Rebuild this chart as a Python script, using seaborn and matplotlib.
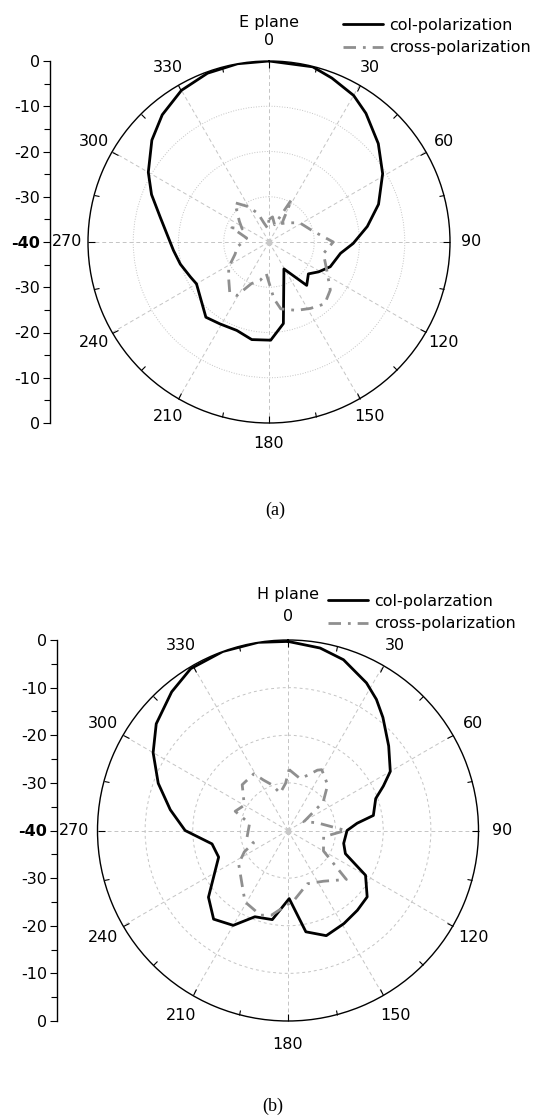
import numpy as np
import seaborn as sns
import matplotlib.pyplot as plt
from matplotlib.lines import Line2D

sns.set_style("white")
plt.rcParams['font.family'] = ['DejaVu Sans']
plt.rcParams['text.color'] = 'black'
plt.rcParams['xtick.color'] = 'black'
plt.rcParams['ytick.color'] = 'black'
plt.rcParams['axes.edgecolor'] = 'black'

# E plane, co-polar (angle deg, level dB)
e_co_ang = [0, 14, 21, 30, 37, 48, 59, 71, 81, 91, 99, 112, 121, 129, 139, 151,
            170, 179, 190, 200, 211, 220, 240, 246, 256, 265, 283, 292, 300, 311,
            320, 330, 340, 350]
e_co_db = [0, -0.1, -1.2, -2.6, -4.4, -7.5, -10.7, -14.4, -18.0, -21.4, -24.0,
           -25.4, -27.2, -28.8, -27.3, -33.2, -21.7, -18.3, -18.1, -19.2, -18.9,
           -18.3, -21.5, -21.0, -19.8, -18.8, -15.3, -12.0, -9.2, -5.7, -3.3,
           -1.3, -0.3, 0.0]

# E plane, cross-polar
e_x_ang = [0, 8, 18, 28, 35, 45, 58, 76, 90, 102, 116, 128, 138, 148, 158, 170,
           175, 185, 193, 203, 211, 218, 228, 238, 250, 262, 270, 280, 291, 296,
           305, 319, 330, 339, 345, 355]
e_x_db = [-35, -34.4, -36, -29.4, -35, -34, -32, -30, -25.8, -27.7, -25.8, -22.8,
          -21.6, -22.7, -23.7, -25.0, -27.4, -33.0, -31.3, -30.0, -26.2, -25.9,
          -28.0, -29.5, -32.0, -33.0, -34.3, -35.0, -31.2, -33.4, -32.0, -28.5,
          -31.0, -33.3, -35.6, -37.0]

# H plane, co-polar
h_co_ang = [0, 10, 18, 28, 34, 40, 50, 60, 65, 70, 80, 84, 90, 103, 112, 120, 130,
            139, 149, 160, 170, 179, 190, 201, 210, 220, 230, 249, 260, 270, 280,
            290, 300, 309, 320, 329, 340, 351]
h_co_db = [-0.3, -1.1, -2.3, -4.9, -6.8, -9.0, -12.4, -15.2, -17.9, -20.4, -21.8,
           -25.4, -27.6, -28.0, -27.0, -21.2, -18.3, -17.8, -17.2, -16.5, -18.4,
           -25.7, -21.0, -20.6, -17.0, -15.7, -18.2, -24.4, -23.8, -18.4, -14.9,
           -11.0, -7.3, -4.4, -2.0, -0.35, 0.0, 0.0]

# H plane, cross-polar
h_x_ang = [1, 13, 20, 26, 29, 41, 51, 61, 75, 90, 100, 120, 130, 145, 160, 175,
           191, 198, 211, 217, 236, 244, 250, 261, 280, 290, 300, 315, 329, 334,
           341, 348, 357]
h_x_db = [-27.2, -28.8, -27.6, -25.9, -25.4, -27.3, -30.5, -36.2, -33.7, -27.9,
          -32.4, -31.4, -24.0, -27.0, -28.1, -25.3, -21.9, -21.3, -22.5, -24.3,
          -27.5, -29.8, -32.3, -31.3, -31.8, -28.2, -29.4, -26.4, -26.1, -28.2,
          -29.9, -32.0, -30.1]

angle_labels = [str(a) for a in range(0, 360, 30)]
scale_labels = ['0', '-10', '-20', '-30', '-40', '-30', '-20', '-10', '0']

W, H = 537, 1116
fig = plt.figure(figsize=(W / 100, H / 100), dpi=100)

panels = [
    dict(cx=269, cy=242, r=181, axis_x=50, title='E plane', title_y=23,
         co=(e_co_ang, e_co_db), x=(e_x_ang, e_x_db),
         labels=['col-polarization', 'cross-polarization'],
         leg=(343, 18), ring_ls=':', cap='(a)', cap_xy=(275, 510), pad=8),
    dict(cx=288, cy=830.5, r=190.5, axis_x=57, title='H plane', title_y=595,
         co=(h_co_ang, h_co_db), x=(h_x_ang, h_x_db),
         labels=['col-polarzation', 'cross-polarization'],
         leg=(328, 594), ring_ls=(0, (3, 3)), cap='(b)', cap_xy=(273, 1106), pad=10),
]

co_kw = dict(color='black', lw=2.0)
x_kw = dict(color='#8f8f8f', lw=2.0, dashes=(4.5, 2.5, 1, 2.5))

for p in panels:
    cx, cy, r = p['cx'], p['cy'], p['r']
    rect = [(cx - r) / W, 1 - (cy + r) / H, 2 * r / W, 2 * r / H]
    ax = fig.add_axes(rect, projection='polar')
    ax.set_theta_zero_location('N')
    ax.set_theta_direction(-1)

    ang, db = p['co']
    sns.lineplot(x=np.radians(np.append(ang, ang[0])), y=np.append(db, db[0]),
                 ax=ax, sort=False, estimator=None, legend=False, **co_kw)
    ang, db = p['x']
    sns.lineplot(x=np.radians(np.append(ang, ang[0])), y=np.append(db, db[0]),
                 ax=ax, sort=False, estimator=None, legend=False, **x_kw)
    ax.plot(0, -40, 's', color='#c8c8c8', ms=3, zorder=1)

    ax.set_ylim(-40, 0)
    ax.set_yticks([-30, -20, -10])
    ax.set_yticklabels([])
    ax.tick_params(axis='y', length=0)
    ax.set_xticks(np.radians(np.arange(0, 360, 30)))
    ax.set_xticklabels(angle_labels)
    ax.set_xticks(np.radians(np.arange(15, 360, 30)), minor=True)
    # outer circle ticks are the "top" ones on a polar axes
    ax.tick_params(axis='x', which='both', bottom=False, top=True)
    ax.tick_params(axis='x', which='major', direction='in', length=5, width=0.8,
                   pad=p['pad'], labelsize=11.5)
    ax.tick_params(axis='x', which='minor', direction='in', length=4, width=0.8)
    ax.xaxis.grid(True, ls=(0, (4, 3)), color='#c4c4c4', lw=0.7)
    ax.yaxis.grid(True, ls=p['ring_ls'], color='#c4c4c4', lw=0.7)
    ax.spines['polar'].set_linewidth(1.0)
    ax.spines['polar'].set_color('black')
    ax.set_xlabel('')
    ax.set_ylabel('')

    # linear dB scale on the left
    sax = fig.add_axes([p['axis_x'] / W, rect[1], 0.0001, rect[3]])
    sax.set_ylim(0, 80)
    sax.set_yticks(np.arange(0, 81, 10))
    sax.set_yticklabels(scale_labels[::-1])
    sax.set_yticks(np.arange(5, 80, 10), minor=True)
    sax.tick_params(axis='y', which='both', left=True)
    sax.tick_params(axis='y', which='major', length=5, width=0.8, labelsize=11.5, pad=2)
    sax.tick_params(axis='y', which='minor', length=4, width=0.8)
    sax.set_xticks([])
    for s in ['top', 'right', 'bottom']:
        sax.spines[s].set_visible(False)
    sax.spines['left'].set_linewidth(1.0)
    sax.get_yticklabels()[4].set_fontweight('bold')

    fig.text(cx / W, 1 - p['title_y'] / H, p['title'], ha='center', va='center',
             fontsize=11.5)
    handles = [Line2D([], [], **co_kw), Line2D([], [], **x_kw)]
    fig.legend(handles, p['labels'], loc='upper left',
               bbox_to_anchor=(p['leg'][0] / W, 1 - p['leg'][1] / H),
               frameon=False, fontsize=11.5, borderpad=0, borderaxespad=0,
               handlelength=2.5, handletextpad=0.4, labelspacing=0.45)
    fig.text(p['cap_xy'][0] / W, 1 - p['cap_xy'][1] / H, p['cap'], ha='center',
             va='center', fontsize=13, family='Liberation Serif')

fig.savefig('out.png', dpi=100)
